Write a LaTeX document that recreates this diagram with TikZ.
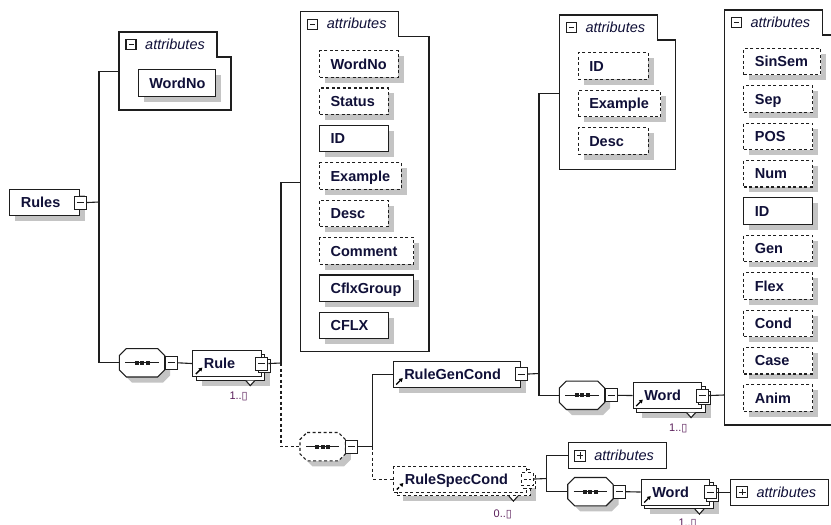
\documentclass[tikz,border=0pt]{standalone}
\usepackage{fontspec}
\setmainfont{Liberation Sans}
\newfontfamily\symfont{DejaVu Sans}
\usetikzlibrary{shadows,arrows.meta}

\definecolor{linec}{RGB}{30,30,30}
\definecolor{textc}{RGB}{16,16,56}
\definecolor{occurc}{RGB}{90,30,90}
\definecolor{shadowc}{RGB}{196,196,196}

\tikzset{
  conn/.style={draw=linec, line width=1.1pt},
  dsh/.style={dash pattern=on 3pt off 2.5pt},
  shade5/.style={general shadow={fill=shadowc, shadow xshift=5.5pt, shadow yshift=-5.5pt}},
  elbox/.style={draw=linec, fill=white, line width=1.1pt, anchor=north west,
    minimum height=26pt, inner xsep=11pt, inner ysep=0pt,
    text height=10.5pt, text depth=0pt, align=left, text=textc,
    font=\fontsize{14.5}{17}\selectfont\bfseries},
  attbox/.style={elbox, shade5, minimum height=26.5pt},
  refel/.style={path picture={\draw[-{Triangle[length=3.5pt,width=4pt]}, line width=1.3pt, black]
    ([shift={(3pt,2.5pt)}]path picture bounding box.south west) -- ++(6.5pt,6.5pt);}},
  minic/.style={draw=linec, fill=white, line width=1.1pt, minimum width=12pt,
    minimum height=13pt, inner sep=0pt,
    path picture={\draw[linec, line width=1pt]
      ([xshift=2.5pt]path picture bounding box.west) -- ([xshift=-2.5pt]path picture bounding box.east);}},
  plusic/.style={minic, minimum width=11pt, minimum height=11pt,
    path picture={\draw[linec, line width=1pt]
      ([xshift=2.2pt]path picture bounding box.west) -- ([xshift=-2.2pt]path picture bounding box.east)
      ([yshift=2.2pt]path picture bounding box.south) -- ([yshift=-2.2pt]path picture bounding box.north);}},
  attric/.style={minic, minimum width=10pt, minimum height=10pt},
  attrtxt/.style={inner sep=0pt, text=textc, font=\fontsize{14.5}{17}\selectfont\itshape},
  collattr/.style={draw=linec, fill=white, line width=1.1pt, anchor=north west,
    minimum height=26pt, inner xsep=11pt, inner ysep=0pt, text width=76pt,
    text height=10.5pt, text depth=0pt, align=left, text=textc,
    font=\fontsize{14.5}{17}\selectfont\itshape},
  seqnode/.style={anchor=west, minimum width=45pt, minimum height=28pt, inner sep=0pt},
  occur/.style={anchor=base west, inner sep=0pt, text=occurc, font=\fontsize{11}{13}\selectfont},
}

% attribute group with tab: name, left, top, right, bottom, connector y
\newcommand\attrgroup[6]{%
  \draw[conn, fill=white] (#2,#3) -- ++(98,0) -- ++(0,25) -| (#4,#5) -- (#2,#5) -- cycle;
  \node[attric] (#1-ic) at (#2+12,#3+12.5) {};
  \node[attrtxt, anchor=base west] (#1-t) at (#2+26,#3+17) {attributes};
  \coordinate (#1) at (#2,#6);
}
% sequence compositor drawn round a named node
\newcommand\seqoct[2][solid]{%
  \draw[conn, fill=white, shade5, #1] ([xshift=7pt]#2.north west) -- ([xshift=-7pt]#2.north east)
    -- ([yshift=-7pt]#2.north east) -- ([yshift=7pt]#2.south east)
    -- ([xshift=-7pt]#2.south east) -- ([xshift=7pt]#2.south west)
    -- ([yshift=7pt]#2.south west) -- ([yshift=-7pt]#2.north west) -- cycle;
  \draw[conn] ([xshift=6pt]#2.west) -- ([xshift=-6pt]#2.east);
  \foreach \dx in {-5.5,0,5.5}
    \fill[linec] ([xshift=\dx pt]#2.center) +(-2pt,-2pt) rectangle +(2pt,2pt);
  \node[minic] (#2I) at ([xshift=6.5pt]#2.east) {};
}

\begin{document}
\begin{tikzpicture}[x=1pt,y=-1pt]
    \useasboundingbox[fill=white] (0,0) rectangle (831,525);

    % attribute groups
    \attrgroup{at1}{119}{32}{231}{110}{71.7}
    \node[attbox, solid, text width=55.3pt] (rsa-0) at (137.7,69) {\mbox{WordNo}};

    \attrgroup{at2}{300.7}{11.7}{429}{351.5}{182.7}
    \foreach \nm/\w/\st [count=\i from 0] in {WordNo/78.7/dsh, Status/68.7/dsh,
        ID/68.7/solid, Example/81.7/dsh, Desc/68.7/dsh, Comment/94.3/dsh,
        CflxGroup/94.3/solid, CFLX/68.7/solid} {
        \pgfmathsetmacro\tw{\w-22}
        \node[attbox, \st, text width=\tw pt] (ra-\i) at (319,50+37.4*\i) {\mbox{\nm}};
    }

    \attrgroup{at3}{559.3}{15}{675.7}{169.3}{93.3}
    \foreach \nm/\w [count=\i from 0] in {ID/70, Example/82.3, Desc/70} {
        \pgfmathsetmacro\tw{\w-22}
        \node[attbox, dsh, text width=\tw pt] (ga-\i) at (577.7,52.3+37.4*\i) {\mbox{\nm}};
    }

    \attrgroup{at4}{724.3}{10}{850}{425}{395}
    \foreach \nm/\w/\st [count=\i from 0] in {SinSem/76.7/dsh, Sep/69/dsh, POS/69/dsh,
        Num/69/dsh, ID/69/solid, Gen/69/dsh, Flex/69/dsh, Cond/69/dsh,
        Case/69/dsh, Anim/69/dsh} {
        \pgfmathsetmacro\tw{\w-22}
        \node[attbox, \st, text width=\tw pt] (wa-\i) at (743.3,47.7+37.4*\i) {\mbox{\nm}};
    }

    % elements
    \node[elbox, shade5, text width=48pt] (rules) at (9.3,189) {Rules};
    \node[minic] (rulesI) at (rules.east) {};

    \node[seqnode] (seq1) at (119.3,362.8) {};
    \seqoct{seq1}

    \node[elbox, shade5, minimum width=68.4pt] (ruleB) at (195.8,353.5) {};
    \draw[conn, fill=white] ([xshift=-19.5pt]ruleB.south east) -- ++(4.5pt,-5pt) -- ++(4.5pt,5pt);
    \node[elbox, refel, text width=46.4pt] (rule) at (192.3,350) {Rule};
    \node[minic] at ([shift={(2.5pt,-2.5pt)}]rule.east) {};
    \node[minic] (ruleI) at (rule.east) {};
    \node[occur] (ruleN) at (229.3,399.3) {1..{\symfont ▯}};

    \node[seqnode] (seq2) at (300,446.7) {};
    \seqoct[dsh]{seq2}

    \node[elbox, shade5, refel, text width=105.3pt] (rgc) at (392.7,360.5) {RuleGenCond};
    \node[minic] (rgcI) at (rgc.east) {};

    \node[elbox, dsh, shade5, minimum width=133pt] (rscB) at (396.8,469) {};
    \draw[conn, fill=white] ([xshift=-22pt]rscB.south east) -- ++(4.5pt,-5pt) -- ++(4.5pt,5pt);
    \node[elbox, dsh, refel, text width=111pt] (rsc) at (393.3,465.5) {RuleSpecCond};
    \node[minic, dsh] at ([shift={(2.5pt,-2.5pt)}]rsc.east) {};
    \node[minic, dsh] (rscI) at (rsc.east) {};
    \node[occur] (rscN) at (493.5,517.3) {0..{\symfont ▯}};

    \node[seqnode] (seq3) at (559.3,395.3) {};
    \seqoct{seq3}

    \node[elbox, shade5, minimum width=68.3pt] (word1B) at (636.2,385.5) {};
    \draw[conn, fill=white] ([xshift=-19pt]word1B.south east) -- ++(4.5pt,-5pt) -- ++(4.5pt,5pt);
    \node[elbox, refel, text width=46.3pt] (word1) at (632.7,382) {Word};
    \node[minic] at ([shift={(2.5pt,-2.5pt)}]word1.east) {};
    \node[minic] (word1I) at (word1.east) {};
    \node[occur] (word1N) at (669,431.7) {1..{\symfont ▯}};

    \node[collattr] (ca1) at (567.7,442) {\hspace*{15pt}attributes};
    \node[plusic] (ca1I) at ([xshift=12.3pt]ca1.west) {};

    \node[seqnode] (seq4) at (567.7,491.7) {};
    \seqoct{seq4}

    \node[elbox, shade5, minimum width=68.6pt] (word2B) at (644.2,482) {};
    \draw[conn, fill=white] ([xshift=-19pt]word2B.south east) -- ++(4.5pt,-5pt) -- ++(4.5pt,5pt);
    \node[elbox, refel, text width=46.6pt] (word2) at (640.7,478.5) {Word};
    \node[minic] at ([shift={(2.5pt,-2.5pt)}]word2.east) {};
    \node[minic] (word2I) at (word2.east) {};
    \node[occur] (word2N) at (678.3,526) {1..{\symfont ▯}};

    \node[collattr] (ca2) at (730,478.5) {\hspace*{15pt}attributes};
    \node[plusic] (ca2I) at ([xshift=12.3pt]ca2.west) {};

    % connectors
    \coordinate (j1) at (99,202);
    \draw[conn] (rulesI.east) -- (j1);
    \draw[conn] (at1) -| (j1) |- (seq1.west);
    \draw[conn] (seq1I.east) -- (rule.west);
    \coordinate (j2) at (281,363);
    \draw[conn] (ruleI.east) -- (j2);
    \draw[conn] (at2) -| (j2);
    \draw[conn, dsh] (j2) |- (seq2.west);
    \coordinate (j3) at (372.7,446.7);
    \draw[conn] (seq2I.east) -- (j3) |- (rgc.west);
    \draw[conn, dsh] (j3) |- (rsc.west);
    \coordinate (j4) at (539,373.5);
    \draw[conn] (rgcI.east) -- (j4);
    \draw[conn] (at3) -| (j4) |- (seq3.west);
    \draw[conn] (seq3I.east) -- (word1.west);
    \draw[conn] (word1I.east) -- (at4);
    \coordinate (j5) at (546.7,478.5);
    \draw[conn] (rscI.east) -- (j5);
    \draw[conn] (ca1.west) -| (j5) |- (seq4.west);
    \draw[conn] (seq4I.east) -- (word2.west);
    \draw[conn] (word2I.east) -- (ca2.west);
\end{tikzpicture}
\end{document}
